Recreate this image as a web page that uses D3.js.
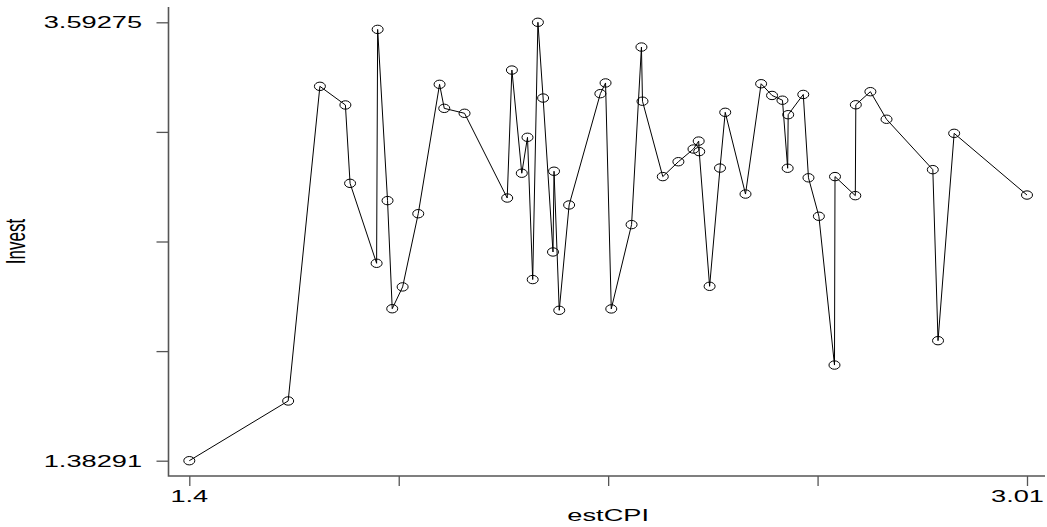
<!DOCTYPE html>
<html>
<head>
<meta charset="utf-8">
<script src="https://cdn.jsdelivr.net/npm/d3@7"></script>
<style>
  body { margin: 0; background: #fff; }
  text { font-family: "Liberation Sans", Arial, sans-serif; fill: #000; }
</style>
</head>
<body>
<div id="plot"></div>
<script>
// estCPI vs Invest, points joined in order of estCPI
var estCPI = [1.400, 1.590, 1.651, 1.700, 1.709, 1.760, 1.762, 1.781, 1.790, 1.810,
              1.840, 1.881, 1.890, 1.929, 2.011, 2.020, 2.039, 2.050, 2.060, 2.070,
              2.080, 2.099, 2.101, 2.111, 2.130, 2.190, 2.200, 2.211, 2.250, 2.269,
              2.271, 2.310, 2.340, 2.369, 2.379, 2.380, 2.400, 2.420, 2.430, 2.469,
              2.499, 2.520, 2.540, 2.550, 2.551, 2.580, 2.590, 2.610, 2.640, 2.641,
              2.680, 2.681, 2.709, 2.740, 2.829, 2.839, 2.870, 3.010];
var invest = [1.38291, 1.684, 3.270, 3.176, 2.781, 2.378, 3.557, 2.694, 2.149, 2.259,
              2.628, 3.280, 3.159, 3.134, 2.707, 3.352, 2.832, 3.013, 2.296, 3.59275,
              3.211, 2.435, 2.842, 2.141, 2.672, 3.233, 3.287, 2.148, 2.573, 3.468,
              3.195, 2.815, 2.890, 2.954, 2.994, 2.941, 2.262, 2.858, 3.139, 2.727,
              3.283, 3.224, 3.200, 2.857, 3.127, 3.229, 2.809, 2.615, 1.865, 2.815,
              2.719, 3.177, 3.243, 3.104, 2.850, 1.988, 3.033, 2.722];
var X_TICKS = [1.4, 1.8025, 2.205, 2.6075, 3.01],
    Y_TICKS = [1.38291, 1.93537, 2.48783, 3.04029, 3.59275],
    X_LABELS = ["1.4", "3.01"],
    Y_LABELS = ["1.38291", "3.59275"];

var W = 1047, H = 527,
    LEFT = 168.5, RIGHT = 1045, TOP = 7, BOTTOM = 476,
    SX = 1.6,          // horizontal stretch of the text
    FONT = 17,
    AXIS_COL = "#555";

var svg = d3.select("#plot").append("svg")
  .attr("width", W)
  .attr("height", H);

var x = d3.scaleLinear().domain([1.4, 3.01]).range([189.3, 1027]),
    y = d3.scaleLinear().domain([1.38291, 3.59275]).range([460.7, 22.3]);

// axes: ticks only, the frame lines are drawn separately
var xAxis = svg.append("g")
  .attr("transform", "translate(0," + BOTTOM + ")")
  .call(d3.axisBottom(x).tickValues(X_TICKS).tickFormat("").tickSize(10).tickSizeOuter(0));
var yAxis = svg.append("g")
  .attr("transform", "translate(" + LEFT + ",0)")
  .call(d3.axisLeft(y).tickValues(Y_TICKS).tickFormat("").tickSize(12).tickSizeOuter(0));
[xAxis, yAxis].forEach(function(g) {
  g.select(".domain").remove();
  g.selectAll(".tick line").attr("stroke", AXIS_COL).attr("stroke-width", 1.3);
});

svg.append("path")
  .attr("d", "M" + LEFT + "," + TOP + "V" + BOTTOM + "H" + RIGHT)
  .attr("fill", "none")
  .attr("stroke", AXIS_COL)
  .attr("stroke-width", 1.6);

// tick labels (only the extremes); the last one is pulled in to stay on the page
X_LABELS.forEach(function(s, i) {
  var last = i === X_LABELS.length - 1;
  svg.append("text")
    .attr("transform", "translate(" + (last ? W - 3 : x(+s)) + ",502) scale(" + SX + ",1)")
    .attr("text-anchor", last ? "end" : "middle")
    .style("font-size", FONT + "px")
    .text(s);
});
Y_LABELS.forEach(function(s) {
  svg.append("text")
    .attr("transform", "translate(142," + (y(+s) + 6) + ") scale(" + SX + ",1)")
    .attr("text-anchor", "end")
    .style("font-size", FONT + "px")
    .text(s);
});

svg.append("text")
  .attr("transform", "translate(" + (x(1.4) + x(3.01)) / 2 + ",521) scale(" + SX + ",1)")
  .attr("text-anchor", "middle")
  .style("font-size", FONT + "px")
  .text("estCPI");
svg.append("text")
  .attr("transform", "translate(25," + (y(1.38291) + y(3.59275)) / 2 + ") scale(" + SX + ",1) rotate(-90)")
  .attr("text-anchor", "middle")
  .style("font-size", FONT + "px")
  .text("Invest");

var pts = estCPI.map(function(v, i) { return [v, invest[i]]; });

svg.append("path")
  .datum(pts)
  .attr("d", d3.line().x(function(d) { return x(d[0]); }).y(function(d) { return y(d[1]); }))
  .attr("fill", "none")
  .attr("stroke", "#000")
  .attr("stroke-width", 1);

svg.selectAll("ellipse.pt")
  .data(pts)
  .enter().append("ellipse")
  .attr("class", "pt")
  .attr("cx", function(d) { return x(d[0]); })
  .attr("cy", function(d) { return y(d[1]); })
  .attr("rx", 5.5)
  .attr("ry", 4.2)
  .attr("fill", "none")
  .attr("stroke", "#000")
  .attr("stroke-width", 1);
</script>
</body>
</html>
